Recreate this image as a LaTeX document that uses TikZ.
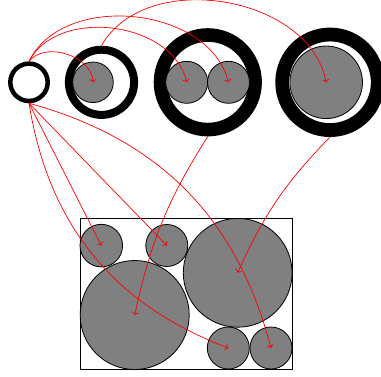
\documentclass[tikz,border=0pt]{standalone}
\usetikzlibrary{arrows.meta}
\begin{document}
\begin{tikzpicture}[x=1pt,y=1pt,
  ring/.style={circle,draw=black,inner sep=0pt,fill=none},
  disc/.style={circle,draw=black,fill=gray,line width=0.8pt,inner sep=0pt,outer sep=0pt},
  link/.style={draw=red,line width=0.7pt,-{To[length=3pt,width=7pt]}}]
\useasboundingbox (0,0) rectangle (381,-376);
% rings
\node[ring,line width=4.5pt,minimum size=37.4pt] (r0) at (29,-82.3) {};
\node[ring,line width=8pt,minimum size=65.2pt] (r1) at (101.5,-82.3) {};
\node[ring,line width=13.6pt,minimum size=94.6pt] (r2) at (207.8,-82.3) {};
\node[ring,line width=13.8pt,minimum size=95.6pt] (r3) at (330,-82.3) {};
% discs inside rings
\node[disc,minimum size=40.6pt] (g1) at (93,-82.3) {};
\node[disc,minimum size=42pt] (g2a) at (186.7,-82.3) {};
\node[disc,minimum size=42pt] (g2b) at (228.5,-82.3) {};
\node[disc,minimum size=72.6pt] (g3) at (326.2,-82.3) {};
% box
\node[draw=black,line width=0.8pt,inner sep=0pt,outer sep=0pt,minimum width=212pt,minimum height=151pt] (box) at (186,-293.5) {};
\node[disc,minimum size=42.6pt] (a) at (101.3,-245.6) {};
\node[disc,minimum size=42pt] (b) at (166.8,-245.5) {};
\node[disc,minimum size=108.8pt] (c) at (237.7,-272.8) {};
\node[disc,minimum size=109pt] (d) at (134.7,-315) {};
\node[disc,minimum size=42pt] (e) at (228.3,-348) {};
\node[disc,minimum size=42pt] (f) at (271,-348) {};
% links
\draw[link] (r0.north) to[bend left=70] (g1.center);
\draw[link] (r0.north) to[bend left=70] (g2a.center);
\draw[link] (r0.north) to[bend left=70] (g2b.center);
\draw[link] (r1.north) to[bend left=70] (g3.center);
\draw[link] (r0.south) -- (a.center);
\draw[link] (r0.south) -- (b.center);
\draw[link] (r0.south) to[bend right=30] (e.center);
\draw[link] (r0.south) to[bend left=30] (f.center);
\draw[link] (r2.south) to[bend right=10] (d.center);
\draw[link] (r3.south) to[bend right=10] (c.center);
\end{tikzpicture}
\end{document}
